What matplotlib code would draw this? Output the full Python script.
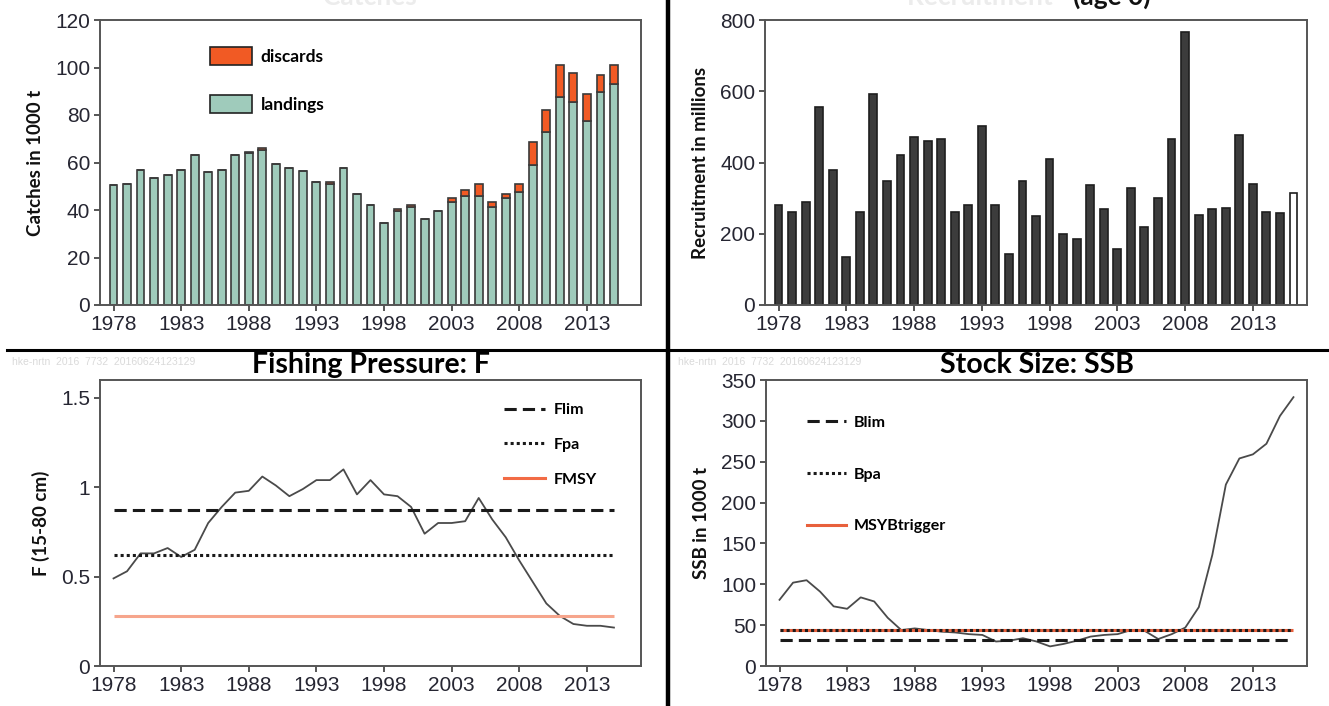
import matplotlib
matplotlib.use("Agg")
import matplotlib.pyplot as plt
from matplotlib import font_manager
from matplotlib.patches import Patch
from matplotlib.lines import Line2D

# data
catch_years = list(range(1978, 2016))
landings = [50.4, 51, 57, 53.3, 54.6, 57, 63, 56, 57, 63, 63.9, 65.4, 59.4, 57.7,
            56.4, 51.6, 50.9, 57.7, 46.8, 41.9, 34.6, 39.7, 41.2, 36.4, 39.5, 43.2,
            46, 46, 41.2, 44.9, 47.4, 58.8, 72.7, 87.4, 85.4, 77.5, 89.6, 93.1]
discards = [0, 0, 0, 0, 0, 0, 0, 0, 0, 0, 0.5, 0.9, 0, 0, 0, 0, 0.7, 0, 0, 0, 0,
            0.7, 0.7, 0, 0, 1.8, 2.5, 5, 2, 1.9, 3.6, 9.7, 9.2, 13.6, 12.1, 11.4,
            7.1, 7.9]

recr_years = list(range(1978, 2017))
recruitment = [281, 261, 290, 555, 378, 136, 261, 591, 349, 422, 471, 459, 466,
               261, 281, 503, 281, 144, 349, 249, 410, 200, 185, 338, 269, 157,
               329, 220, 301, 466, 765, 253, 269, 273, 478, 341, 261, 257, 314]

f_years = list(range(1978, 2016))
f_values = [0.49, 0.53, 0.63, 0.63, 0.66, 0.61, 0.65, 0.80, 0.89, 0.97, 0.98,
            1.06, 1.01, 0.95, 0.99, 1.04, 1.04, 1.10, 0.96, 1.04, 0.96, 0.95,
            0.89, 0.74, 0.80, 0.80, 0.81, 0.94, 0.82, 0.72, 0.59, 0.47, 0.35,
            0.28, 0.235, 0.225, 0.225, 0.215]
f_lim = 0.87
f_pa = 0.62
f_msy = 0.28

ssb_years = list(range(1978, 2017))
ssb_values = [81, 102, 105, 91, 73, 70, 84, 79, 59, 44, 46, 44, 42, 41, 39, 38,
              30, 31, 34, 30, 24, 27, 31, 36, 38, 39, 44, 43, 33, 39, 47, 72,
              136, 222, 254, 259, 272, 306, 329]
b_lim = 31.5
b_pa = 44
msy_btrigger = 44

year_ticks = [1978, 1983, 1988, 1993, 1998, 2003, 2008, 2013]


def pick_font(names):
    for name in names:
        try:
            font_manager.findfont(name, fallback_to_default=False)
            return name
        except ValueError:
            continue
    return "DejaVu Sans"


TICK_FONT = pick_font(["Liberation Sans Narrow", "Liberation Sans"])
BOLD_FONT = pick_font(["Lato", "Open Sans", "DejaVu Sans"])

W, H = 1329, 706


def axes_at(fig, left, top, right, bottom):
    # pixel box (from top-left) -> figure fraction
    return fig.add_axes([left / W, 1 - bottom / H, (right - left) / W, (bottom - top) / H])


def style_axes(ax, ylim, yticks):
    ax.set_xlim(1977, 2017)
    ax.set_ylim(*ylim)
    ax.set_xticks(year_ticks)
    ax.set_yticks(yticks)
    for s in ax.spines.values():
        s.set_color("#555555")
        s.set_linewidth(1.4)
    ax.tick_params(direction="out", length=4, width=1.4, color="#555555",
                   labelsize=15, labelcolor="#262632", pad=3)
    for lab in ax.get_xticklabels() + ax.get_yticklabels():
        lab.set_family(TICK_FONT)


def bold_label(ax, text):
    ax.set_ylabel(text, fontsize=13.5, fontweight="bold", family=BOLD_FONT,
                  color="#111111", labelpad=8)


fig = plt.figure(figsize=(W / 100, H / 100), dpi=100)

# ---- catches
ax1 = axes_at(fig, 100, 20, 641, 305)
ax1.bar(catch_years, landings, width=0.58, color="#9fcbbb", edgecolor="#3a3a3a", linewidth=1.2)
ax1.bar(catch_years, discards, bottom=landings, width=0.58, color="#f15a24",
        edgecolor="#3a3a3a", linewidth=1.2)
style_axes(ax1, (0, 120), [0, 20, 40, 60, 80, 100, 120])
bold_label(ax1, "Catches in 1000 t")
leg_handles = [Patch(facecolor="#f15a24", edgecolor="#222222", linewidth=1.2),
               Patch(facecolor="#9fcbbb", edgecolor="#222222", linewidth=1.2)]
ax1.legend(leg_handles, ["discards", "landings"], loc="upper left", bbox_to_anchor=(0.175, 0.96),
           frameon=False, handlelength=2.4, handleheight=1.2, labelspacing=1.75,
           handletextpad=0.5, prop={"family": BOLD_FONT, "weight": "bold", "size": 12.5})

# ---- recruitment
ax2 = axes_at(fig, 765, 20, 1307, 305)
recr_colors = ["#3c3c3c"] * (len(recruitment) - 1) + ["white"]
ax2.bar(recr_years, recruitment, width=0.58, color=recr_colors, edgecolor="#1e1e1e", linewidth=1.2)
style_axes(ax2, (0, 800), [0, 200, 400, 600, 800])
bold_label(ax2, "Recruitment in millions")

# ---- fishing pressure
ax3 = axes_at(fig, 100, 380, 641, 666)
ax3.plot(f_years, f_values, color="#4a4a4a", lw=1.3)
ax3.hlines(f_lim, f_years[0], f_years[-1], colors="#1a1a1a", linestyles=(0, (4, 2)), lw=2.2)
ax3.hlines(f_pa, f_years[0], f_years[-1], colors="#1a1a1a", linestyles=(0, (1, 1)), lw=2.2)
ax3.hlines(f_msy, f_years[0], f_years[-1], colors="#f6a58c", lw=2.2)
style_axes(ax3, (0, 1.6), [0, 0.5, 1, 1.5])
ax3.set_yticklabels(["0", "0.5", "1", "1.5"], family=TICK_FONT)
bold_label(ax3, "F (15-80 cm)")
ax3.set_title("Fishing Pressure: F", fontsize=20.5, fontweight="bold", family=BOLD_FONT, pad=5)
f_handles = [Line2D([], [], color="#1a1a1a", ls=(0, (4, 2)), lw=2.2),
             Line2D([], [], color="#1a1a1a", ls=(0, (1, 1)), lw=2.2),
             Line2D([], [], color="#f26b45", lw=2.2)]
ax3.legend(f_handles, ["Flim", "Fpa", "FMSY"], loc="upper left", bbox_to_anchor=(0.72, 0.97),
           frameon=False, handlelength=2.6, labelspacing=1.3, handletextpad=0.5,
           prop={"family": BOLD_FONT, "weight": "bold", "size": 11.5})

# ---- stock size
ax4 = axes_at(fig, 766, 380, 1307, 666)
ax4.plot(ssb_years, ssb_values, color="#4a4a4a", lw=1.3)
ax4.hlines(msy_btrigger, ssb_years[0], ssb_years[-1], colors="#e8603c", lw=2.2)
ax4.hlines(b_pa, ssb_years[0], ssb_years[-1], colors="#1a1a1a", linestyles=(0, (1, 1)), lw=2.2)
ax4.hlines(b_lim, ssb_years[0], ssb_years[-1], colors="#1a1a1a", linestyles=(0, (4, 2)), lw=2.2)
style_axes(ax4, (0, 350), [0, 50, 100, 150, 200, 250, 300, 350])
bold_label(ax4, "SSB in 1000 t")
ax4.set_title("Stock Size: SSB", fontsize=20.5, fontweight="bold", family=BOLD_FONT, pad=5)
b_handles = [Line2D([], [], color="#1a1a1a", ls=(0, (4, 2)), lw=2.2),
             Line2D([], [], color="#1a1a1a", ls=(0, (1, 1)), lw=2.2),
             Line2D([], [], color="#e8603c", lw=2.2)]
ax4.legend(b_handles, ["Blim", "Bpa", "MSYBtrigger"], loc="upper left", bbox_to_anchor=(0.05, 0.925),
           frameon=False, handlelength=2.4, labelspacing=2.35, handletextpad=0.5,
           prop={"family": BOLD_FONT, "weight": "bold", "size": 11.5})

# cropped titles of the top panels (only their lower edge is left in the image)
fig.text(370 / W, 1 - 5 / H, "Catches", ha="center", va="baseline", fontsize=19,
         fontweight="bold", family=BOLD_FONT, color="#ececec")
fig.text(907 / W, 1 - 5 / H, "Recruitment ", ha="left", va="baseline", fontsize=19,
         fontweight="bold", family=BOLD_FONT, color="#ececec")
fig.text(1073 / W, 1 - 5 / H, "(age 0)", ha="left", va="baseline", fontsize=19,
         fontweight="bold", family=BOLD_FONT, color="#111111")

# faint run stamps
for x0 in (12, 678):
    fig.text(x0 / W, 1 - 362 / H, "hke-nrtn  2016  7732  20160624123129", fontsize=7.5,
             color="#dadada", family=TICK_FONT, va="center")

# panel dividers
fig.add_artist(Line2D([668 / W, 668 / W], [0, 1], color="black", lw=3.2))
fig.add_artist(Line2D([7 / W, 1], [1 - 350 / H, 1 - 350 / H], color="black", lw=2.2))

fig.savefig("out.png", dpi=100)
plt.close(fig)
